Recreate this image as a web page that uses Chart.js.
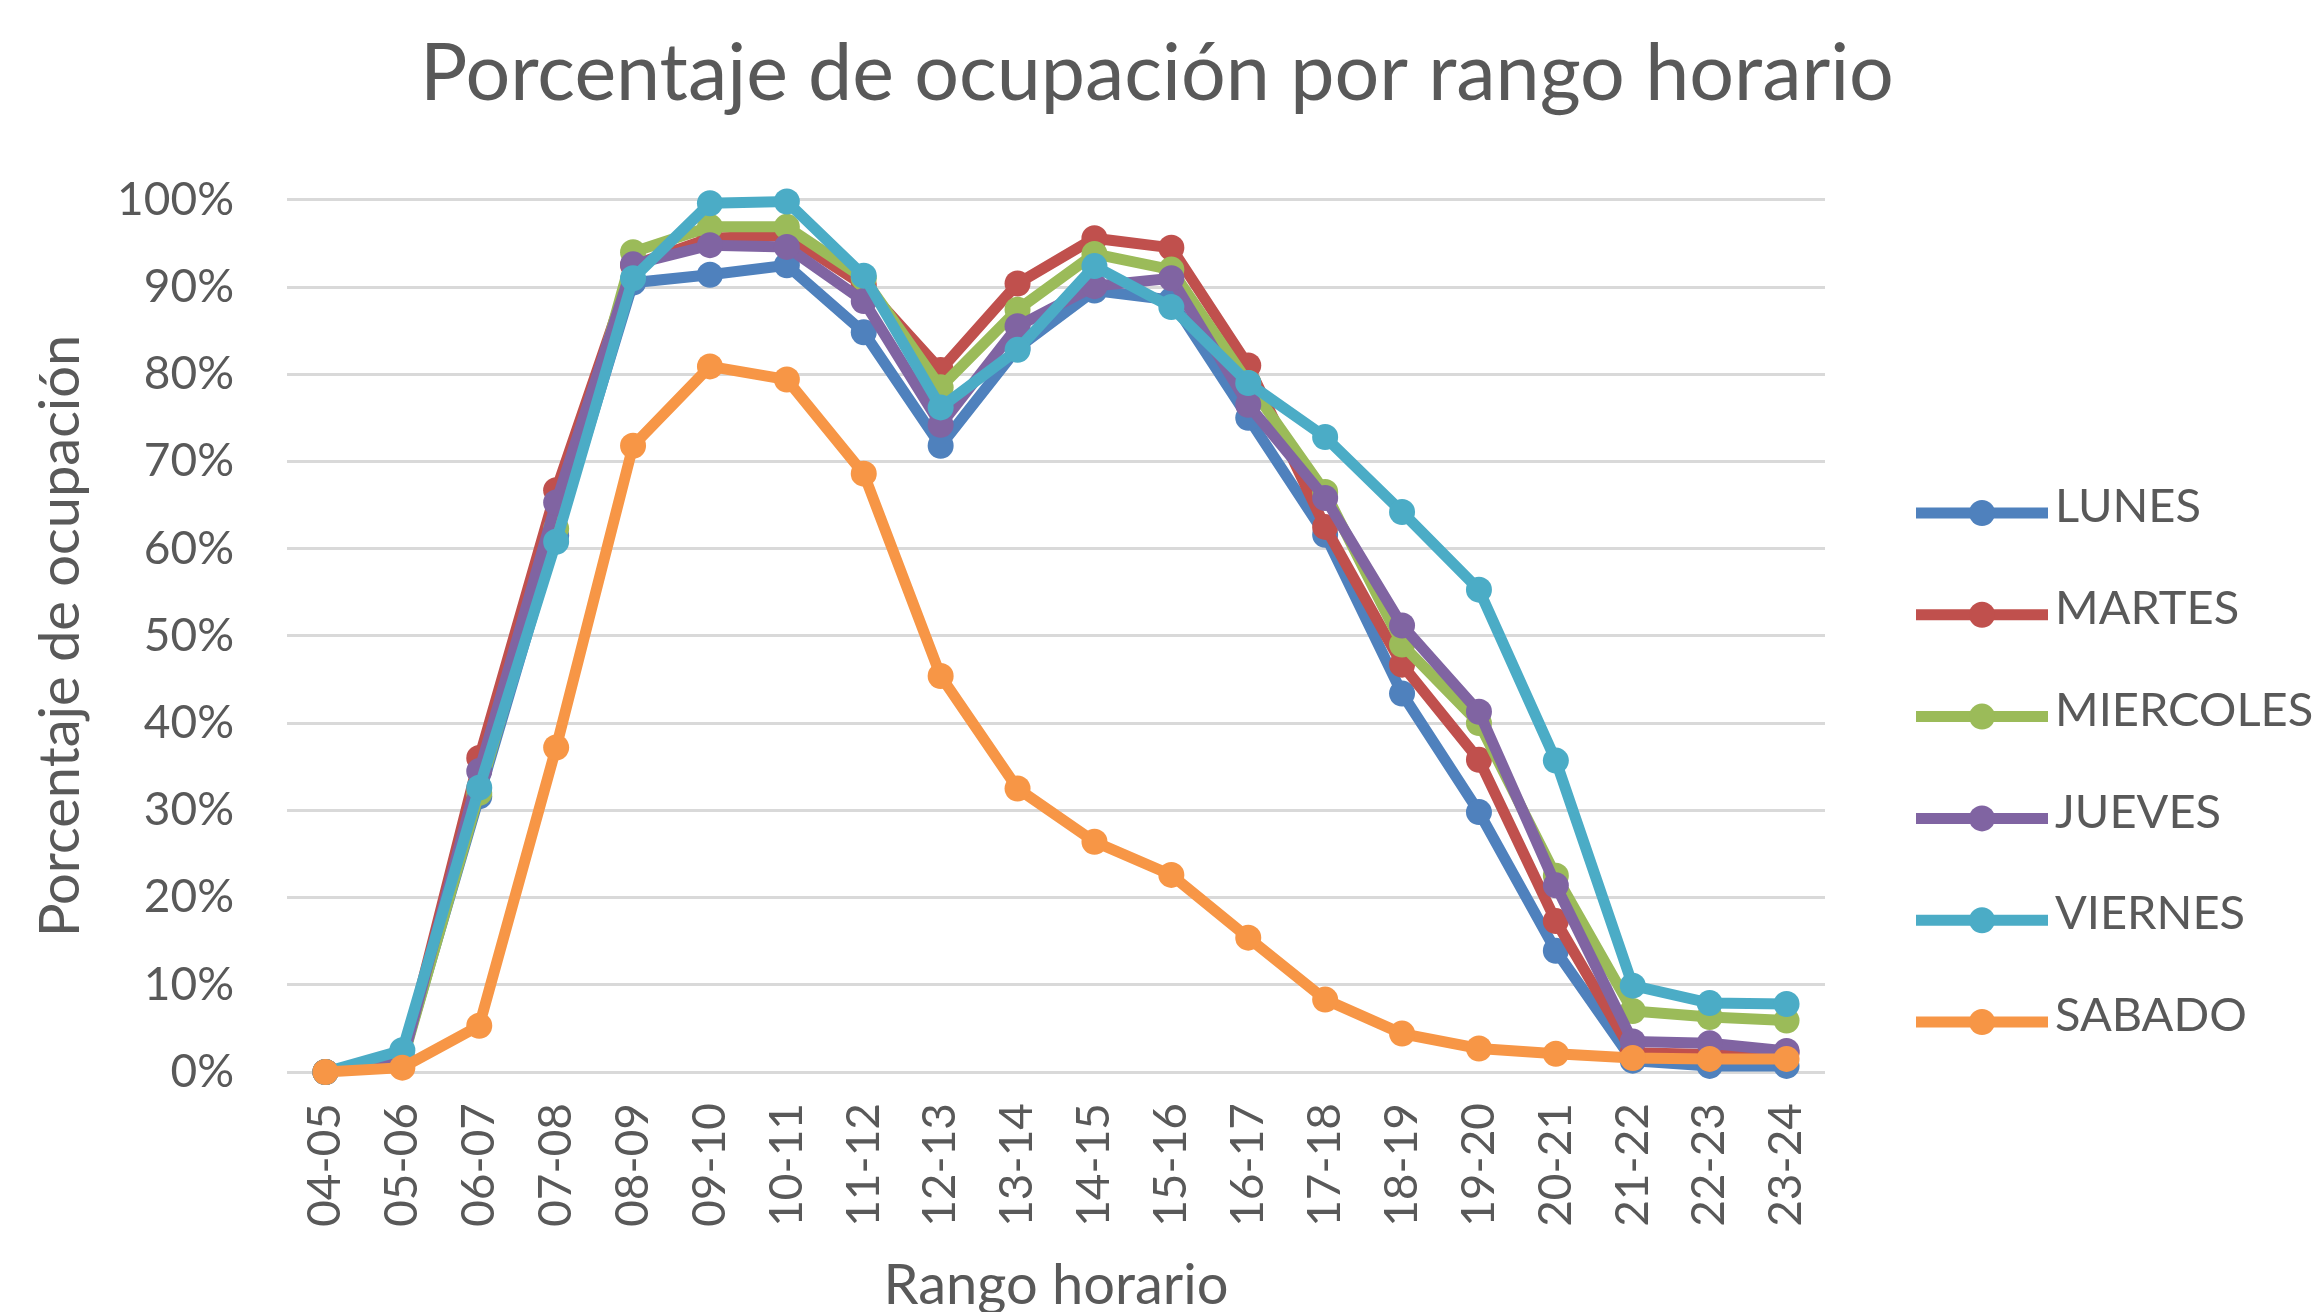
<!DOCTYPE html>
<html>
<head>
<meta charset="utf-8">
<script src="https://cdn.jsdelivr.net/npm/chart.js@4.4.1/dist/chart.umd.min.js"></script>
<style>
  html, body { margin: 0; padding: 0; background: #ffffff; }
  #wrap { width: 2314px; height: 1312px; }
</style>
</head>
<body>
<div id="wrap"><canvas id="ocupacion" width="2314" height="1312"></canvas></div>
<script>
// rangos horarios
const rangos = ["04-05","05-06","06-07","07-08","08-09","09-10","10-11","11-12","12-13","13-14",
                "14-15","15-16","16-17","17-18","18-19","19-20","20-21","21-22","22-23","23-24"];

// % de ocupacion por dia
const lunes     = [0, 1.5, 31.6, 61.5, 90.5, 91.4, 92.5, 84.8, 71.8, 83.0, 89.6, 88.5, 75.0, 61.6, 43.4, 29.8, 13.9, 1.3, 0.7, 0.7];
const martes    = [0, 1.2, 36.0, 66.7, 92.5, 95.6, 95.9, 90.2, 80.5, 90.4, 95.6, 94.5, 81.0, 62.5, 46.7, 35.8, 17.3, 2.2, 2.0, 2.2];
const miercoles = [0, 1.2, 32.0, 62.3, 94.0, 96.9, 96.9, 91.0, 78.5, 87.4, 93.8, 92.0, 79.0, 66.5, 49.0, 40.0, 22.5, 7.0, 6.3, 5.9];
const jueves    = [0, 1.2, 34.5, 65.3, 92.6, 94.8, 94.6, 88.4, 74.2, 85.5, 90.1, 91.0, 76.5, 65.8, 51.2, 41.3, 21.4, 3.5, 3.3, 2.4];
const viernes   = [0, 2.5, 32.6, 60.8, 91.0, 99.6, 99.8, 91.3, 76.2, 82.8, 92.4, 87.7, 79.0, 72.8, 64.2, 55.3, 35.7, 9.9, 7.9, 7.8];
const sabado    = [0, 0.5, 5.3, 37.2, 71.8, 80.9, 79.4, 68.6, 45.4, 32.5, 26.4, 22.6, 15.4, 8.3, 4.4, 2.7, 2.1, 1.6, 1.5, 1.5];

const dias    = ["LUNES", "MARTES", "MIERCOLES", "JUEVES", "VIERNES", "SABADO"];
const valores = [lunes, martes, miercoles, jueves, viernes, sabado];
const colores = ["#4F81BD", "#C0504D", "#9BBB59", "#8064A2", "#4BACC6", "#F79646"];

const textColor = "#595959";
const fontName = "Lato";

// leyenda al estilo excel: linea con marcador
const leyenda = {
    id: "leyenda",
    afterDraw(chart) {
        const ctx = chart.ctx;
        ctx.save();
        dias.forEach(function(d, i){
            let y = 513 + i * 101.8;
            ctx.strokeStyle = colores[i];
            ctx.lineWidth = 11;
            ctx.beginPath();
            ctx.moveTo(1916, y);
            ctx.lineTo(2048, y);
            ctx.stroke();
            ctx.fillStyle = colores[i];
            ctx.beginPath();
            ctx.arc(1982, y, 13, 0, Math.PI * 2);
            ctx.fill();
            ctx.fillStyle = textColor;
            ctx.font = "47px " + fontName;
            ctx.textAlign = "left";
            ctx.textBaseline = "middle";
            ctx.fillText(d, 2055, y - 6);
        });
        ctx.restore();
    }
};

const datasets = dias.map(function(d, i){
    return {
        label: d,
        data: valores[i],
        borderColor: colores[i],
        backgroundColor: colores[i],
        pointBackgroundColor: colores[i],
        pointBorderColor: colores[i],
        pointBorderWidth: 0,
        pointRadius: 13,
        borderWidth: 11,
        tension: 0,
        clip: false,
        order: dias.length - 1 - i
    };
});

new Chart(document.getElementById("ocupacion"), {
    type: "line",
    data: { labels: rangos, datasets: datasets },
    options: {
        responsive: false,
        animation: false,
        devicePixelRatio: 1,
        layout: { padding: 0 },
        plugins: {
            legend: { display: false },
            tooltip: { enabled: false },
            title: {
                display: true,
                text: "Porcentaje de ocupación por rango horario",
                color: textColor,
                font: { family: fontName, size: 79, weight: "normal", lineHeight: 1.2 },
                padding: { top: 27, bottom: 78 }
            }
        },
        scales: {
            x: {
                offset: true,
                grid: { display: false, drawTicks: false },
                border: { display: false },
                ticks: {
                    color: textColor,
                    font: { family: fontName, size: 46 },
                    minRotation: 90,
                    maxRotation: 90,
                    autoSkip: false,
                    padding: 31
                },
                title: {
                    display: true,
                    text: "Rango horario",
                    color: textColor,
                    font: { family: fontName, size: 56, lineHeight: 0.92 },
                    padding: 0
                },
                afterFit: function(scale){ scale.height = 240; }
            },
            y: {
                min: 0,
                max: 100,
                grid: { color: "#D9D9D9", lineWidth: 3, drawTicks: false },
                border: { display: false },
                ticks: {
                    stepSize: 10,
                    color: textColor,
                    font: { family: fontName, size: 46 },
                    padding: 53,
                    callback: function(v){ return v + "%"; }
                },
                title: {
                    display: true,
                    text: "Porcentaje de ocupación",
                    color: textColor,
                    font: { family: fontName, size: 56, lineHeight: 1.2 },
                    padding: { top: 27, bottom: 0 }
                },
                afterFit: function(scale){ scale.width = 287; }
            },
            // eje vacio a la derecha para dejar sitio a la leyenda
            hueco: {
                position: "right",
                grid: { display: false, drawTicks: false },
                border: { display: false },
                ticks: { display: false },
                afterFit: function(scale){ scale.width = 489; }
            }
        }
    },
    plugins: [leyenda]
});
</script>
</body>
</html>
